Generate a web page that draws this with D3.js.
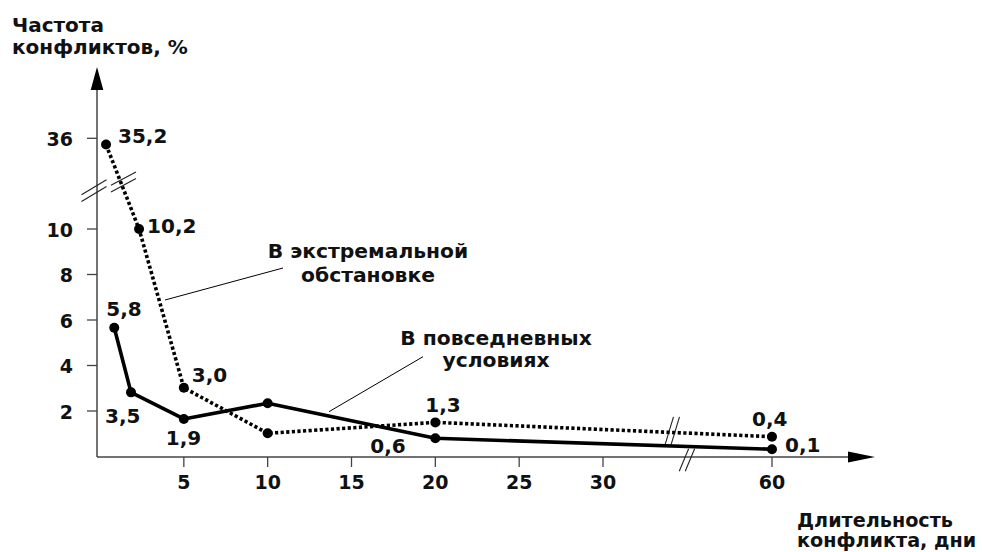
<!DOCTYPE html>
<html><head><meta charset="utf-8">
<script src="https://cdn.jsdelivr.net/npm/d3@7/dist/d3.min.js"></script>
<style>
body{margin:0;background:#fff;}
text{font-family:"DejaVu Sans",sans-serif;font-weight:bold;fill:#111;}
</style></head>
<body><svg id="c" width="982" height="552"></svg>
<script>
// ---- data ----
const xTicks = [5, 10, 15, 20, 25, 30, 60];
const yTicks = [2, 4, 6, 8, 10, 36];
// В повседневных условиях (solid)
const everydayDays   = [0.85, 1.85, 5, 10, 20, 60];
const everydayValues = [5.66, 2.82, 1.65, 2.34, 0.8, 0.32];
const everydayLabels = ["5,8", "3,5", "1,9", "", "0,6", "0,1"];
// В экстремальной обстановке (dotted)
const extremeDays   = [0.36, 2.33, 5, 10, 20, 60];
const extremeValues = [34.2, 10, 3.02, 1.02, 1.5, 0.87];
const extremeLabels = ["35,2", "10,2", "3,0", "", "1,3", "0,4"];

const svg = d3.select("#c");
const x = d3.scaleLinear().domain([0, 30, 60]).range([100, 603, 772]);
const y = d3.scaleLinear().domain([0, 10, 36]).range([456.5, 229, 138.3]);
const axisColor = "#444";
const x0 = 97, y0 = 457;

// axes lines
svg.append("line").attr("x1", x0).attr("x2", 850).attr("y1", y0).attr("y2", y0)
  .attr("stroke", axisColor).attr("stroke-width", 1.5);
svg.append("line").attr("x1", x0).attr("x2", x0).attr("y1", y0).attr("y2", 88)
  .attr("stroke", axisColor).attr("stroke-width", 1.5);
// arrows
svg.append("path").attr("d", `M${x0},67 L${x0-6.3},90 L${x0+6.3},90 Z`).attr("fill", "#000");
svg.append("path").attr("d", `M875,${y0} L848,${y0-5.5} L848,${y0+5.5} Z`).attr("fill", "#000");

// ticks
const xt = svg.append("g");
xTicks.forEach(t => {
  xt.append("line").attr("x1", x(t)).attr("x2", x(t)).attr("y1", y0).attr("y2", y0 + 10)
    .attr("stroke", axisColor).attr("stroke-width", 1.3);
  xt.append("text").attr("x", x(t)).attr("y", 489).attr("text-anchor", "middle")
    .attr("font-size", 19).text(t);
});
const yt = svg.append("g");
yTicks.forEach(t => {
  yt.append("line").attr("x1", x0 - 10).attr("x2", x0).attr("y1", y(t)).attr("y2", y(t))
    .attr("stroke", axisColor).attr("stroke-width", 1.3);
  yt.append("text").attr("x", 73).attr("y", y(t) + 7.5).attr("text-anchor", "end")
    .attr("font-size", 19).text(t);
});

// break marks
function brk(cx, cy, dx, dy, gapx, gapy) {
  [-1, 1].forEach(s => {
    svg.append("line")
      .attr("x1", cx - dx + s * gapx).attr("y1", cy - dy + s * gapy)
      .attr("x2", cx + dx + s * gapx).attr("y2", cy + dy + s * gapy)
      .attr("stroke", "#222").attr("stroke-width", 1.1);
  });
}
brk(x0 - 3, y(21), 12.5, -7.5, 0, 3.3);
brk(x(1.4), y(23.5), 12.5, -6.7, 0, 3.3);
brk(x(44.9), y0 + 3, -4.7, 11.2, 3, 0);
brk(x(42.3), y(1.0) - 3, -4.2, 13.8, 3, 0);

// lines
const line = d3.line().x(d => x(d[0])).y(d => y(d[1]));
const everyday = everydayDays.map((d, i) => [d, everydayValues[i]]);
const extreme = extremeDays.map((d, i) => [d, extremeValues[i]]);

svg.append("path").datum(extreme).attr("d", line).attr("fill", "none")
  .attr("stroke", "#000").attr("stroke-width", 3.6).attr("stroke-dasharray", "3.2,2.4");
svg.append("path").datum(everyday).attr("d", line).attr("fill", "none")
  .attr("stroke", "#000").attr("stroke-width", 3.6).attr("stroke-linejoin", "round");

svg.selectAll("circle.a").data(extreme).enter().append("circle")
  .attr("cx", d => x(d[0])).attr("cy", d => y(d[1])).attr("r", 5).attr("fill", "#000");
svg.selectAll("circle.b").data(everyday).enter().append("circle")
  .attr("cx", d => x(d[0])).attr("cy", d => y(d[1])).attr("r", 5).attr("fill", "#000");

// data labels (offsets relative to points)
const extremeOff = [[12, -2], [8, 4], [8, -6], [0, 0], [-10, -10], [-20, -11]];
const everydayOff = [[-8, -12], [-26, 31], [-18, 26], [0, 0], [-65, 15], [13, 3]];
extreme.forEach((d, i) => {
  if (!extremeLabels[i]) return;
  svg.append("text").attr("x", x(d[0]) + extremeOff[i][0]).attr("y", y(d[1]) + extremeOff[i][1])
    .attr("font-size", 20).text(extremeLabels[i]);
});
everyday.forEach((d, i) => {
  if (!everydayLabels[i]) return;
  svg.append("text").attr("x", x(d[0]) + everydayOff[i][0]).attr("y", y(d[1]) + everydayOff[i][1])
    .attr("font-size", 20).text(everydayLabels[i]);
});

// annotations
svg.append("line").attr("x1", 165).attr("y1", 300).attr("x2", 283).attr("y2", 268)
  .attr("stroke", "#000").attr("stroke-width", 1);
svg.append("line").attr("x1", 329).attr("y1", 411.7).attr("x2", 423).attr("y2", 356.7)
  .attr("stroke", "#000").attr("stroke-width", 1);
[["В экстремальной", 258.3], ["обстановке", 281.7]].forEach(([t, yy]) =>
  svg.append("text").attr("x", 368).attr("y", yy).attr("text-anchor", "middle")
    .attr("font-size", 20.3).text(t));
[["В повседневных", 345], ["условиях", 366.7]].forEach(([t, yy]) =>
  svg.append("text").attr("x", 496).attr("y", yy).attr("text-anchor", "middle")
    .attr("font-size", 20.3).text(t));

// axis titles
[["Частота", 31.7], ["конфликтов, %", 53.5]].forEach(([t, yy]) =>
  svg.append("text").attr("x", 12).attr("y", yy).attr("font-size", 20).text(t));
[["Длительность", 527], ["конфликта, дни", 547]].forEach(([t, yy]) =>
  svg.append("text").attr("x", 797).attr("y", yy).attr("font-size", 19.2).text(t));
</script></body></html>
